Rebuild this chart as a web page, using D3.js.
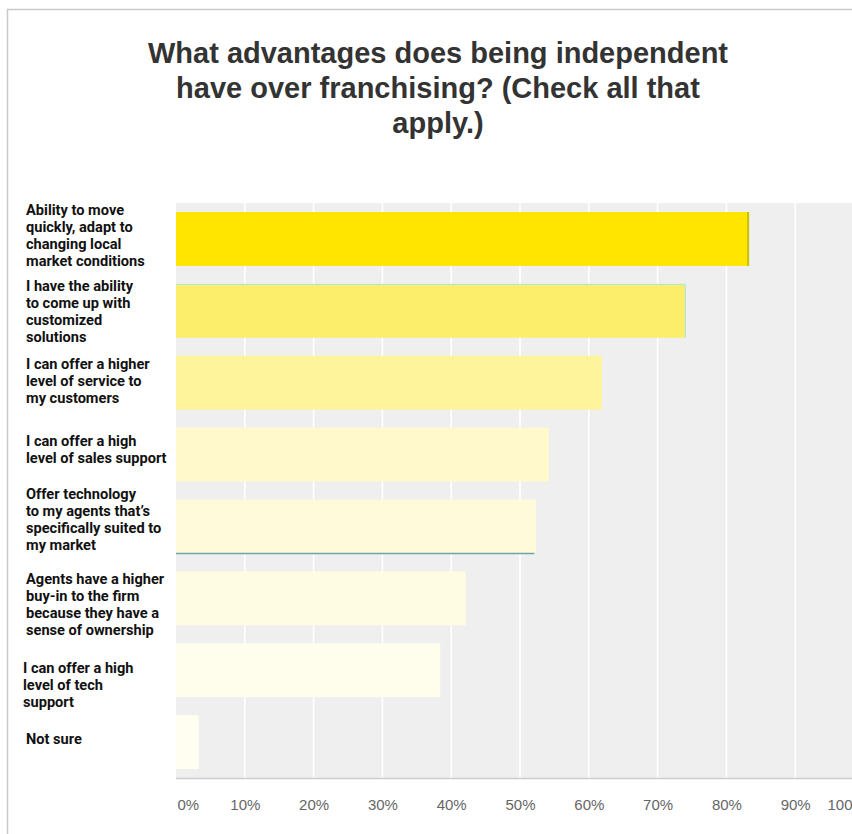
<!DOCTYPE html>
<html>
<head>
<meta charset="utf-8">
<script src="https://cdn.jsdelivr.net/npm/d3@7/dist/d3.min.js"></script>
<style>
  html, body { margin: 0; padding: 0; background: #ffffff; }
  svg { display: block; }
</style>
</head>
<body>
<div id="chart"></div>
<script>
// Survey question and answer options (each label split into its display lines)
const titleLines = [
  "What advantages does being independent",
  "have over franchising? (Check all that",
  "apply.)"
];
const categories = [
  ["Ability to move", "quickly, adapt to", "changing local", "market conditions"],
  ["I have the ability", "to come up with", "customized", "solutions"],
  ["I can offer a higher", "level of service to", "my customers"],
  ["I can offer a high", "level of sales support"],
  ["Offer technology", "to my agents that\u2019s", "specifically suited to", "my market"],
  ["Agents have a higher", "buy-in to the firm", "because they have a", "sense of ownership"],
  ["I can offer a high", "level of tech", "support"],
  ["Not sure"]
];
// Share of respondents choosing each option (%)
const values = [83.3, 74.1, 61.9, 54.2, 52.3, 42.1, 38.4, 3.3];
const tickValues = [0, 10, 20, 30, 40, 50, 60, 70, 80, 90, 100];
const tickLabels = ["0%", "10%", "20%", "30%", "40%", "50%", "60%", "70%", "80%", "90%", "100%"];

// Fill shades, strongest for the most chosen option
const barColors = ["#FFE500", "#FCEE6B", "#FEF49B", "#FFF9CC", "#FFFAD9", "#FFFCE4", "#FFFDEC", "#FFFEF1"];
// Small vertical nudges for the wrapped category labels
const labelNudge = [-4, 0, -2, -5, -7, 6, 15, -3];
const labelX = [26, 26, 26, 26, 26, 26, 23, 26];

const W = 852, H = 834;
const svg = d3.select("#chart").append("svg")
  .attr("width", W).attr("height", H);

// outer frame
svg.append("rect")
  .attr("x", 7.5).attr("y", 9.5)
  .attr("width", W + 10).attr("height", H + 10)
  .attr("fill", "#ffffff").attr("stroke", "#c9c9c9").attr("stroke-width", 1.5);

// title
const title = svg.append("text")
  .attr("x", 438).attr("y", 63)
  .attr("text-anchor", "middle")
  .attr("font-family", "'Liberation Sans', Arial, sans-serif")
  .attr("font-weight", "bold")
  .attr("font-size", 29)
  .attr("fill", "#333333");
title.selectAll("tspan").data(titleLines).join("tspan")
  .attr("x", 438)
  .attr("dy", (d, i) => i === 0 ? 0 : 35)
  .text(d => d);

// scales
const x = d3.scaleLinear().domain([0, 100]).range([176, 864]);
const y = d3.scaleBand()
  .domain(d3.range(categories.length))
  .range([203, 778])
  .paddingInner(0.25)
  .paddingOuter(0.125);

const plotTop = 203, plotBottom = 778;

// plot background
svg.append("rect")
  .attr("x", x(0)).attr("y", plotTop)
  .attr("width", x(100) - x(0)).attr("height", plotBottom - plotTop)
  .attr("fill", "#efefef");

// vertical gridlines
svg.append("g")
  .selectAll("line")
  .data(tickValues.filter(v => v > 0))
  .join("line")
  .attr("x1", d => x(d)).attr("x2", d => x(d))
  .attr("y1", plotTop).attr("y2", plotBottom)
  .attr("stroke", "#ffffff").attr("stroke-width", 1.6);

// bars
const bars = svg.append("g");
bars.selectAll("rect")
  .data(values)
  .join("rect")
  .attr("x", x(0))
  .attr("y", (d, i) => y(i))
  .attr("width", d => x(d) - x(0))
  .attr("height", y.bandwidth())
  .attr("fill", (d, i) => barColors[i]);

// edge accents on a few bars
svg.append("line")
  .attr("x1", x(values[0]) - 1).attr("x2", x(values[0]) - 1)
  .attr("y1", y(0)).attr("y2", y(0) + y.bandwidth())
  .attr("stroke", "#c6c010").attr("stroke-width", 2);
svg.append("path")
  .attr("d", `M${x(0)},${y(1) + 0.5}H${x(values[1]) - 0.5}V${y(1) + y.bandwidth()}`)
  .attr("fill", "none").attr("stroke", "#9fe9ea").attr("stroke-width", 1);
svg.append("line")
  .attr("x1", x(0)).attr("x2", x(values[4]) - 1.5)
  .attr("y1", y(4) + y.bandwidth()).attr("y2", y(4) + y.bandwidth())
  .attr("stroke", "#6aa6b0").attr("stroke-width", 1.5);

// bottom axis line
svg.append("line")
  .attr("x1", x(0)).attr("x2", W)
  .attr("y1", plotBottom + 0.5).attr("y2", plotBottom + 0.5)
  .attr("stroke", "#cccccc").attr("stroke-width", 1.5);

// x axis tick labels
const xAxis = d3.axisBottom(x)
  .tickValues(tickValues)
  .tickFormat((d, i) => tickLabels[i])
  .tickSize(0)
  .tickPadding(0);
const gx = svg.append("g")
  .attr("transform", "translate(0,799)")
  .call(xAxis);
gx.select(".domain").remove();
gx.selectAll("text")
  .attr("font-family", "'Liberation Sans', Arial, sans-serif")
  .attr("font-size", 15)
  .attr("fill", "#666666")
  .attr("dy", 0)
  .attr("y", 11);
gx.selectAll(".tick").filter(d => d === 0).select("text")
  .attr("text-anchor", "start").attr("x", 1);
// the last label runs past the right edge and is cut off there
gx.selectAll(".tick").filter(d => d === 100).select("text")
  .attr("text-anchor", "start").attr("x", 827 - x(100));

// category labels
const lineH = 17;
const labels = svg.append("g")
  .attr("font-family", "Roboto, 'Noto Sans', sans-serif")
  .attr("font-weight", "bold")
  .attr("font-size", 14.6)
  .attr("fill", "#111111");
categories.forEach((lines, i) => {
  const cy = y(i) + y.bandwidth() / 2 + labelNudge[i];
  // first baseline so the block (cap top .. last baseline) centres on cy
  const blockH = 10.4 + (lines.length - 1) * lineH;
  const firstBase = cy - blockH / 2 + 10.4;
  const t = labels.append("text").attr("x", labelX[i]).attr("y", firstBase);
  t.selectAll("tspan").data(lines).join("tspan")
    .attr("x", labelX[i])
    .attr("dy", (d, k) => k === 0 ? 0 : lineH)
    .text(d => d);
});
</script>
</body>
</html>
